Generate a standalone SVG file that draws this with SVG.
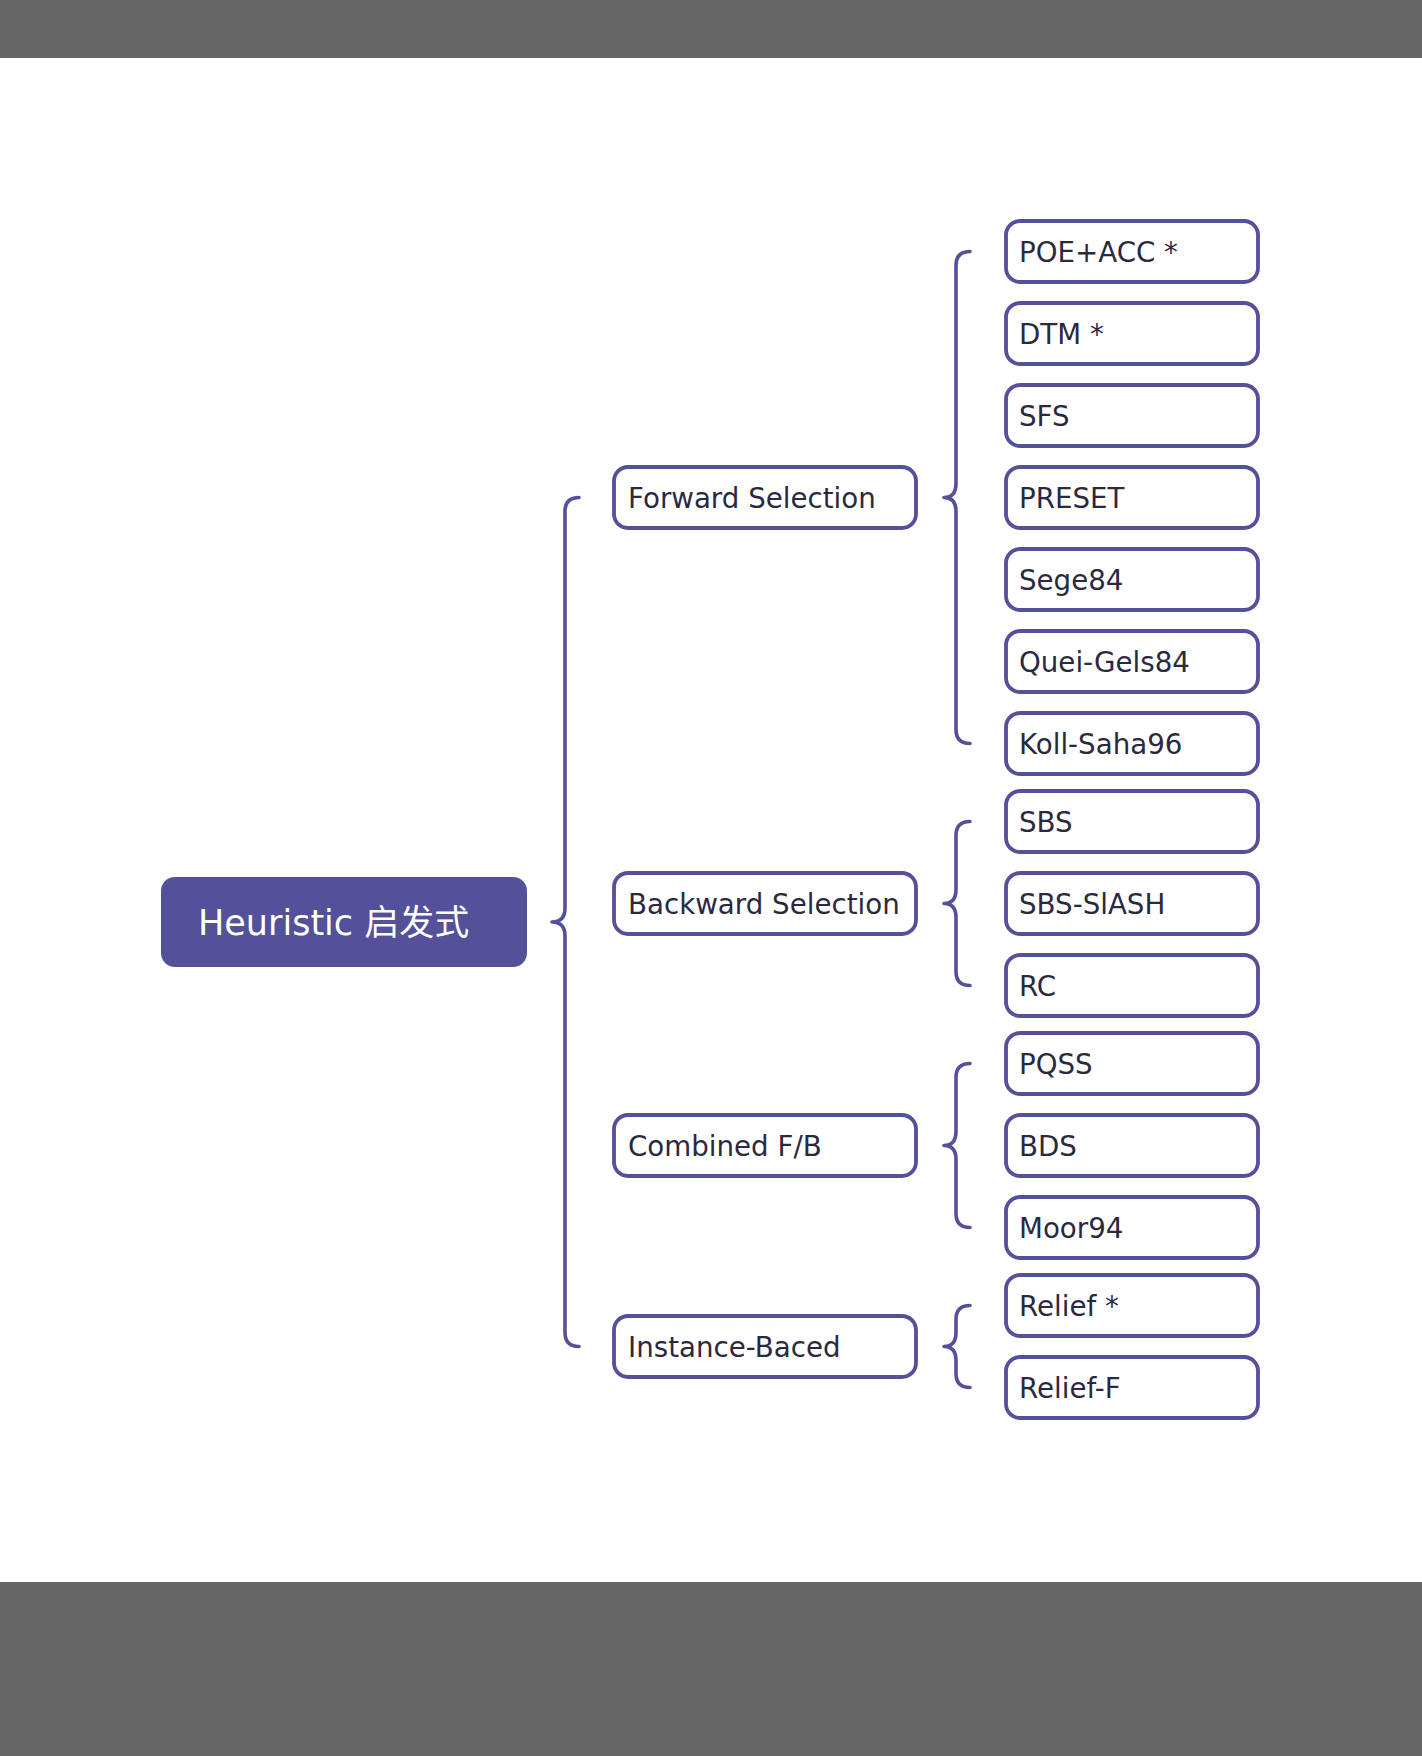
<svg xmlns="http://www.w3.org/2000/svg" width="1422" height="1756" viewBox="0 0 1422 1756">
<style>
.bar{fill:#666666}
.box{fill:#ffffff;stroke:#55509a;stroke-width:3.8}
.root{fill:#55509a}
.br{fill:none;stroke:#55509a;stroke-width:3.6;stroke-linecap:round;stroke-linejoin:round}
.t{font-family:"DejaVu Sans","Noto Sans CJK SC",sans-serif;font-size:27.7px;fill:#2a2940}
.rt{font-family:"DejaVu Sans","Noto Sans CJK SC",sans-serif;font-size:35px;fill:#ffffff}
</style>
<rect width="1422" height="1756" fill="#ffffff"/>
<rect class="bar" x="0" y="0" width="1422" height="58"/>
<rect class="bar" x="0" y="1582" width="1422" height="174"/>
<g id="connectors">
<path class="br" d="M579,497.5 Q565,497.5 565,511.5 L565,908 Q565,922 552,922 Q565,922 565,936 L565,1332.5 Q565,1346.5 579,1346.5"/>
<path class="br" d="M970,251.5 Q956,251.5 956,265.5 L956,483.5 Q956,497.5 944,497.5 Q956,497.5 956,511.5 L956,729.5 Q956,743.5 970,743.5"/>
<path class="br" d="M970,821.5 Q956,821.5 956,835.5 L956,889.5 Q956,903.5 944,903.5 Q956,903.5 956,917.5 L956,971.5 Q956,985.5 970,985.5"/>
<path class="br" d="M970,1063.5 Q956,1063.5 956,1077.5 L956,1131.5 Q956,1145.5 944,1145.5 Q956,1145.5 956,1159.5 L956,1213.5 Q956,1227.5 970,1227.5"/>
<path class="br" d="M970,1305.5 Q956,1305.5 956,1319.5 L956,1332.5 Q956,1346.5 944,1346.5 Q956,1346.5 956,1360.5 L956,1373.5 Q956,1387.5 970,1387.5"/>
</g>
<g id="root"><rect class="root" x="161" y="877" width="366" height="90" rx="14"/><text class="rt" x="198" y="935">Heuristic 启发式</text></g>
<g id="forward"><rect class="box" x="614" y="467" width="302" height="61" rx="14"/><text class="t" x="628" y="508">Forward Selection</text></g>
<g id="backward"><rect class="box" x="614" y="873" width="302" height="61" rx="14"/><text class="t" x="628" y="914">Backward Selection</text></g>
<g id="combined"><rect class="box" x="614" y="1115" width="302" height="61" rx="14"/><text class="t" x="628" y="1156">Combined F/B</text></g>
<g id="instance"><rect class="box" x="614" y="1316" width="302" height="61" rx="14"/><text class="t" x="628" y="1357">Instance-Baced</text></g>
<g id="poeacc"><rect class="box" x="1006" y="221" width="252" height="61" rx="14"/><text class="t" x="1019" y="262">POE+ACC *</text></g>
<g id="dtm"><rect class="box" x="1006" y="303" width="252" height="61" rx="14"/><text class="t" x="1019" y="344">DTM *</text></g>
<g id="sfs"><rect class="box" x="1006" y="385" width="252" height="61" rx="14"/><text class="t" x="1019" y="426">SFS</text></g>
<g id="preset"><rect class="box" x="1006" y="467" width="252" height="61" rx="14"/><text class="t" x="1019" y="508">PRESET</text></g>
<g id="sege84"><rect class="box" x="1006" y="549" width="252" height="61" rx="14"/><text class="t" x="1019" y="590">Sege84</text></g>
<g id="queigels84"><rect class="box" x="1006" y="631" width="252" height="61" rx="14"/><text class="t" x="1019" y="672">Quei-Gels84</text></g>
<g id="kollsaha96"><rect class="box" x="1006" y="713" width="252" height="61" rx="14"/><text class="t" x="1019" y="754">Koll-Saha96</text></g>
<g id="sbs"><rect class="box" x="1006" y="791" width="252" height="61" rx="14"/><text class="t" x="1019" y="832">SBS</text></g>
<g id="sbsslash"><rect class="box" x="1006" y="873" width="252" height="61" rx="14"/><text class="t" x="1019" y="914">SBS-SlASH</text></g>
<g id="rc"><rect class="box" x="1006" y="955" width="252" height="61" rx="14"/><text class="t" x="1019" y="996">RC</text></g>
<g id="pqss"><rect class="box" x="1006" y="1033" width="252" height="61" rx="14"/><text class="t" x="1019" y="1074">PQSS</text></g>
<g id="bds"><rect class="box" x="1006" y="1115" width="252" height="61" rx="14"/><text class="t" x="1019" y="1156">BDS</text></g>
<g id="moor94"><rect class="box" x="1006" y="1197" width="252" height="61" rx="14"/><text class="t" x="1019" y="1238">Moor94</text></g>
<g id="relief"><rect class="box" x="1006" y="1275" width="252" height="61" rx="14"/><text class="t" x="1019" y="1316">Relief *</text></g>
<g id="relieff"><rect class="box" x="1006" y="1357" width="252" height="61" rx="14"/><text class="t" x="1019" y="1398">Relief-F</text></g>
</svg>
